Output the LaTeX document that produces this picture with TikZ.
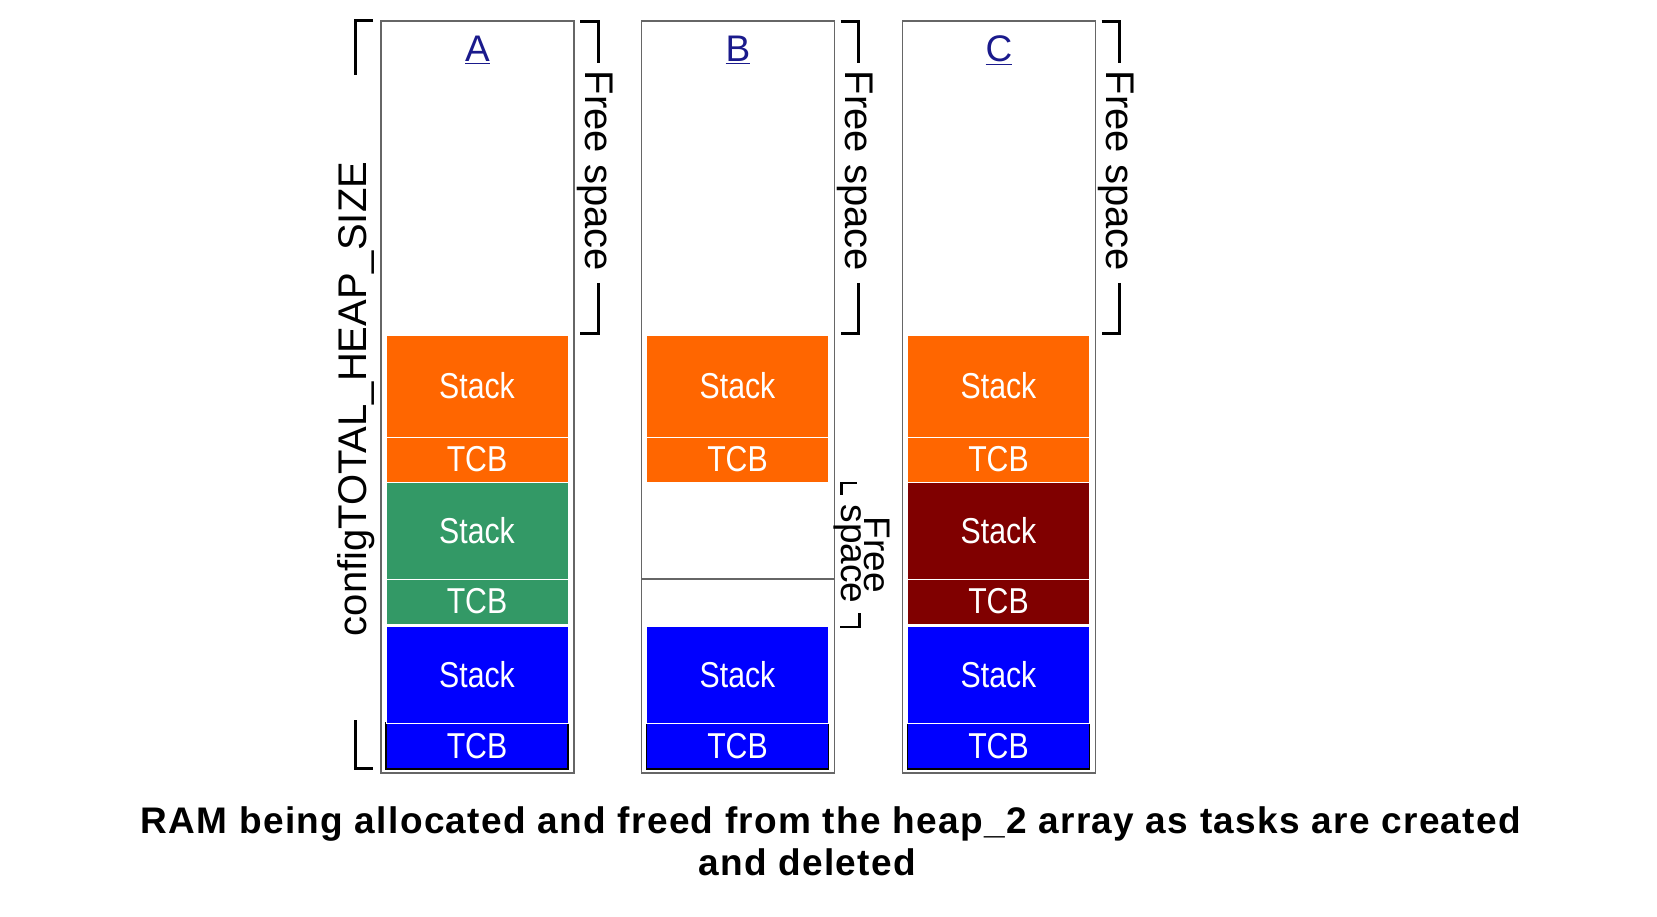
\documentclass[tikz,border=0pt]{standalone}
\usepackage{fontspec}
\setmainfont{Liberation Sans}
\newfontfamily\narrowsans[FakeStretch=0.84]{Liberation Sans}
\newfontfamily\captionsans[LetterSpace=3.6]{Liberation Sans}
\usetikzlibrary{positioning}

\definecolor{taskorange}{HTML}{FF6600}
\definecolor{taskgreen}{HTML}{339966}
\definecolor{taskblue}{HTML}{0000FF}
\definecolor{taskred}{HTML}{800000}
\definecolor{heapline}{HTML}{666666}
\definecolor{linkblue}{HTML}{1A1A8C}

\tikzset{
  heapbox/.style={draw=heapline, line width=1.6pt, minimum width=193pt, minimum height=752pt, inner sep=0pt, outer sep=0pt},
  memblock/.style={draw=white, line width=1pt, minimum width=182pt, inner sep=0pt, outer sep=0pt, text=white, font=\narrowsans\fontsize{36}{36}\selectfont},
  bigstack/.style={memblock, minimum height=102pt},
  stackblock/.style={memblock, minimum height=97pt},
  tcbblock/.style={memblock, minimum height=45pt},
  sizebracket/.style={line width=3pt, black},
  sidetext/.style={font=\fontsize{40}{40}\selectfont, inner sep=0pt},
}

\begin{document}
\begin{tikzpicture}[x=1pt, y=-1pt]
\useasboundingbox[fill=white] (0,0) rectangle (1657,917);

% the three snapshots of the heap
\foreach \col/\xl in {A/381,B/641.5,C/902.5} {
  \node[heapbox, anchor=north west] (heap\col) at (\xl,21) {};
  \node[sidetext, font=\fontsize{37}{37}\selectfont, text=linkblue, anchor=base] (title\col) at ([yshift=-41pt]heap\col.north) {\underline{\col}};
  % first task, top of the used part
  \node[bigstack, fill=taskorange, anchor=north west] (stackO\col) at ([xshift=5pt,yshift=-314pt]heap\col.north west) {Stack};
  \node[tcbblock, fill=taskorange, below=0pt of stackO\col] (tcbO\col) {TCB};
  % last task, bottom of the heap
  \node[tcbblock, fill=taskblue, draw=black, line width=1.2pt, minimum height=46pt, anchor=south west] (tcbU\col) at ([xshift=5pt,yshift=4pt]heap\col.south west) {TCB};
  \node[stackblock, fill=taskblue, above=0pt of tcbU\col] (stackU\col) {Stack};
  % free space above the tasks
  \draw[sizebracket] ([xshift=6pt,yshift=-1pt]heap\col.north east) -| ++(18,41);
  \draw[sizebracket] ([xshift=24pt,yshift=-262pt]heap\col.north east) |- ++(-18,50);
  \node[sidetext, rotate=-90, anchor=base] (free\col) at ([xshift=11pt,yshift=-150pt]heap\col.north east) {Free space};
}

% A: middle task
\node[stackblock, fill=taskgreen, below=0pt of tcbOA] (stackGA) {Stack};
\node[tcbblock, fill=taskgreen, below=0pt of stackGA] (tcbGA) {TCB};

% B: middle task deleted
\draw[heapline, line width=1.2pt] ([yshift=-558pt]heapB.north west) -- ([yshift=-558pt]heapB.north east);
\draw[sizebracket, line width=2.2pt] ([xshift=22pt,yshift=-462pt]heapB.north east) -| ++(-15,12);
\draw[sizebracket, line width=2.2pt] ([xshift=25pt,yshift=-592pt]heapB.north east) |- ++(-20,14);
\node[sidetext, font=\fontsize{37}{37}\selectfont, rotate=-90, anchor=base] (freeB1) at ([xshift=30pt,yshift=-534pt]heapB.north east) {Free};
\node[sidetext, font=\fontsize{37}{37}\selectfont, rotate=-90, anchor=base] (freeB2) at ([xshift=7pt,yshift=-533pt]heapB.north east) {space};

% C: new task in the freed space
\node[stackblock, fill=taskred, below=0pt of tcbOC] (stackRC) {Stack};
\node[tcbblock, fill=taskred, below=0pt of stackRC] (tcbRC) {TCB};

% whole heap
\draw[sizebracket] ([xshift=-8pt]heapA.north west) -| ++(-18,54);
\draw[sizebracket] ([xshift=-26pt,yshift=53pt]heapA.south west) |- ++(18,48);
\node[sidetext, rotate=90, anchor=base] (heapsize) at (366,399) {configTOTAL\_HEAP\_SIZE};

% caption
\node[font=\captionsans\bfseries\fontsize{37}{37}\selectfont, anchor=base] (caption1) at (831,833) {RAM being allocated and freed from the heap\_2 array as tasks are created};
\node[font=\captionsans\bfseries\fontsize{37}{37}\selectfont, anchor=base] (caption2) at (807,875) {and deleted};
\end{tikzpicture}
\end{document}
